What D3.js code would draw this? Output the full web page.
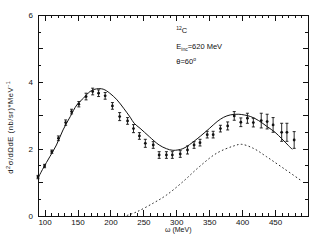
<!DOCTYPE html>
<html>
<head>
<meta charset="utf-8">
<script src="https://cdn.jsdelivr.net/npm/d3@7"></script>
<style>
  body { margin: 0; background: #fff; }
  svg { display: block; }
  text { font-family: "Liberation Sans", "DejaVu Sans", sans-serif; fill: #111; }
  .axis path, .axis line { stroke: #111; stroke-width: 1; shape-rendering: crispEdges; }
</style>
</head>
<body>
<div id="chart"></div>
<script>
// measured points (omega in MeV, cross section, error)
var omega = [90, 100, 111, 121, 132, 141, 152, 163, 173, 182, 192, 203, 214, 226, 235, 244, 253,
             265, 274, 285, 294, 306, 317, 327, 336, 347, 356, 367, 378, 388, 398, 408, 417, 429,
             438, 447, 460, 468, 479];
var sigma = [1.15, 1.48, 1.91, 2.31, 2.78, 3.11, 3.33, 3.56, 3.71, 3.66, 3.58, 3.28, 2.96, 2.83, 2.6, 2.38, 2.16,
             2.11, 1.81, 1.81, 1.81, 1.84, 1.96, 2.11, 2.18, 2.42, 2.42, 2.6, 2.68, 2.98, 2.79, 2.91, 2.78, 2.84,
             2.81, 2.71, 2.49, 2.49, 2.26];
var sigmaErr = [0.05, 0.05, 0.05, 0.07, 0.08, 0.07, 0.08, 0.1, 0.1, 0.1, 0.1, 0.1, 0.12, 0.1, 0.12, 0.1, 0.12,
                0.1, 0.1, 0.1, 0.1, 0.1, 0.12, 0.1, 0.1, 0.1, 0.1, 0.1, 0.12, 0.13, 0.13, 0.15, 0.13, 0.22,
                0.22, 0.22, 0.27, 0.27, 0.25];

// full calculation (solid)
var totalW = [90, 98, 108, 118, 128, 139, 149, 159, 169, 179, 189, 199, 210, 220, 230, 236, 245, 259,
              274, 285, 295, 310, 320, 337, 350, 362, 372, 382, 395, 413, 425, 438, 450, 460, 470, 476];
var totalS = [1.12, 1.42, 1.76, 2.11, 2.56, 2.96, 3.31, 3.51, 3.71, 3.79, 3.78, 3.66, 3.46, 3.21, 2.94, 2.76, 2.61, 2.36,
              2.11, 2.0, 1.95, 2.0, 2.12, 2.38, 2.6, 2.81, 2.94, 3.01, 3.03, 2.96, 2.84, 2.66, 2.49, 2.3, 2.1, 1.98];

// delta contribution (dashed)
var deltaW = [225, 240, 265, 285, 310, 335, 361, 387, 399, 417, 437, 463, 490];
var deltaS = [0.0, 0.11, 0.37, 0.61, 1.01, 1.46, 1.86, 2.08, 2.13, 2.01, 1.76, 1.41, 1.04];

var xLabels = [100, 150, 200, 250, 300, 350, 400, 450];
var yLabels = [0, 2, 4, 6];

var width = 328, height = 244;
var plotL = 38, plotR = 308, plotT = 15, plotB = 215.5;

var svg = d3.select("#chart").append("svg")
    .attr("width", width)
    .attr("height", height);

var x = d3.scaleLinear().domain([90, 500]).range([plotL, plotR]);
var y = d3.scaleLinear().domain([0, 6]).range([plotB, plotT]);

var xMinor = d3.range(90, 500, 10);
var yMinor = d3.range(0, 6, 0.5);
var yMajor = d3.range(0, 7, 1);

function axisGroup(tx, ty) {
    return svg.append("g").attr("class", "axis").attr("transform", "translate(" + tx + "," + ty + ")");
}

// bottom
axisGroup(0, plotB).call(d3.axisBottom(x).tickValues(xMinor).tickSize(-3).tickSizeOuter(0).tickFormat(""));
var bx = axisGroup(0, plotB).call(d3.axisBottom(x).tickValues(xLabels).tickSize(-6).tickSizeOuter(0)
    .tickPadding(4).tickFormat(d3.format("d")));
bx.select(".domain").remove();
bx.selectAll("text").style("font-size", "8px");

// top
axisGroup(0, plotT).call(d3.axisTop(x).tickValues(xMinor).tickSize(-3).tickSizeOuter(0).tickFormat(""));
axisGroup(0, plotT).call(d3.axisTop(x).tickValues(xLabels).tickSize(-6).tickSizeOuter(0).tickFormat(""))
    .select(".domain").remove();

// left
axisGroup(plotL, 0).call(d3.axisLeft(y).tickValues(yMinor).tickSize(-3).tickSizeOuter(0).tickFormat(""));
var ly = axisGroup(plotL, 0).call(d3.axisLeft(y).tickValues(yLabels).tickSize(-5).tickSizeOuter(0)
    .tickPadding(5).tickFormat(d3.format("d")));
ly.select(".domain").remove();
ly.selectAll("text").style("font-size", "8px");
axisGroup(plotL, 0).call(d3.axisLeft(y).tickValues(yMajor).tickSize(-5).tickSizeOuter(0).tickFormat(""))
    .select(".domain").remove();

// right
axisGroup(plotR, 0).call(d3.axisRight(y).tickValues(yMinor).tickSize(-3).tickSizeOuter(0).tickFormat(""));
axisGroup(plotR, 0).call(d3.axisRight(y).tickValues(yMajor).tickSize(-5).tickSizeOuter(0).tickFormat(""))
    .select(".domain").remove();

// curves
var line = d3.line().curve(d3.curveCatmullRom.alpha(0.5));

svg.append("path")
    .attr("d", line(totalW.map(function (w, i) { return [x(w), y(totalS[i])]; })))
    .attr("fill", "none").attr("stroke", "#111").attr("stroke-width", 1);

svg.append("path")
    .attr("d", line(deltaW.map(function (w, i) { return [x(w), y(deltaS[i])]; })))
    .attr("fill", "none").attr("stroke", "#111").attr("stroke-width", 0.9)
    .attr("stroke-dasharray", "1.6,2.4");

// data points with error bars
var pts = svg.append("g").selectAll("g")
    .data(omega.map(function (w, i) { return { w: w, s: sigma[i], e: sigmaErr[i] }; }))
    .enter().append("g");

pts.append("line")
    .attr("x1", function (d) { return x(d.w); }).attr("x2", function (d) { return x(d.w); })
    .attr("y1", function (d) { return y(d.s - d.e); }).attr("y2", function (d) { return y(d.s + d.e); })
    .attr("stroke", "#111").attr("stroke-width", 0.9);
pts.append("line")
    .attr("x1", function (d) { return x(d.w) - 1.5; }).attr("x2", function (d) { return x(d.w) + 1.5; })
    .attr("y1", function (d) { return y(d.s + d.e); }).attr("y2", function (d) { return y(d.s + d.e); })
    .attr("stroke", "#111").attr("stroke-width", 0.9);
pts.append("line")
    .attr("x1", function (d) { return x(d.w) - 1.5; }).attr("x2", function (d) { return x(d.w) + 1.5; })
    .attr("y1", function (d) { return y(d.s - d.e); }).attr("y2", function (d) { return y(d.s - d.e); })
    .attr("stroke", "#111").attr("stroke-width", 0.9);
pts.append("circle")
    .attr("cx", function (d) { return x(d.w); })
    .attr("cy", function (d) { return y(d.s); })
    .attr("r", 1.4).attr("fill", "#111");

// axis titles
svg.append("text")
    .attr("transform", "translate(13," + ((plotT + plotB) / 2 + 12) + ")rotate(-90)")
    .attr("text-anchor", "middle")
    .style("font-size", "7.5px")
    .style("letter-spacing", "0.6px")
    .html("d<tspan dy='-3' font-size='5.5px'>2</tspan><tspan dy='3'>σ/dΩdE  (nb/sr)*MeV</tspan><tspan dy='-3' font-size='5.5px'>-1</tspan>");

svg.append("text")
    .attr("x", x(300) + 2).attr("y", 232)
    .attr("text-anchor", "middle")
    .style("font-size", "7px")
    .text("ω (MeV)");

// annotation
var ann = svg.append("g").style("font-size", "7.5px");
ann.append("text").attr("x", x(300)).attr("y", 33)
    .html("<tspan dy='-3' font-size='5px'>12</tspan><tspan dy='3'>C</tspan>");
ann.append("text").attr("x", x(300)).attr("y", 49)
    .html("E<tspan dy='2' font-size='5px'>inc</tspan><tspan dy='-2'>=620 MeV</tspan>");
ann.append("text").attr("x", x(300)).attr("y", 64)
    .html("θ=60<tspan dy='-3' font-size='5px'>o</tspan>");
</script>
</body>
</html>
